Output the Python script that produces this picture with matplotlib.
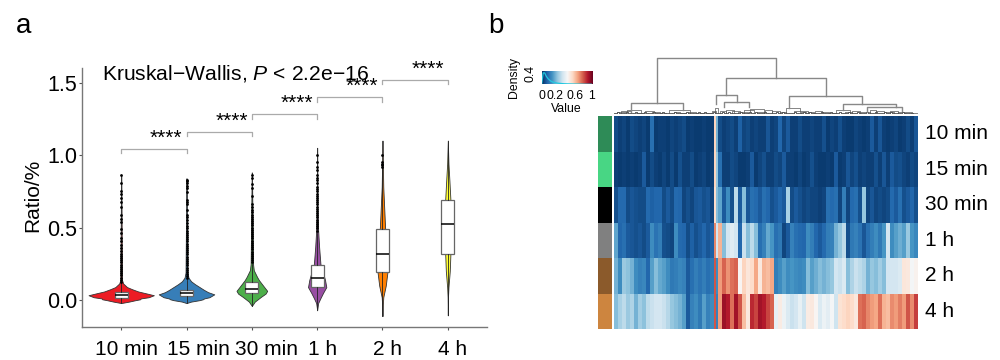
import numpy as np
import matplotlib
matplotlib.use("Agg")
import matplotlib.pyplot as plt

plt.rcParams["font.family"] = ["Liberation Sans", "DejaVu Sans"]
plt.rcParams["mathtext.fontset"] = "custom"
plt.rcParams["mathtext.rm"] = "Liberation Sans"
plt.rcParams["mathtext.it"] = "Liberation Sans:italic"

# violin panel data
times = ["10 min", "15 min", "30 min", "1 h", "2 h", "4 h"]
violin_colors = ["#EC1C24", "#377EB8", "#4DAF4A", "#984EA3", "#FF7F00", "#FFFF33"]
label_shift = [5, 12, 15, 5, 5, 5]

y_10min = [-0.02, -0.01, 0.0, 0.006, 0.012, 0.02, 0.034, 0.045, 0.06, 0.075, 0.09, 0.115, 0.14, 0.86]
w_10min = [0, 0.12, 0.22, 0.29, 0.30, 0.42, 0.50, 0.40, 0.26, 0.17, 0.09, 0.03, 0.012, 0.002]
y_15min = [-0.02, -0.01, 0.0, 0.006, 0.012, 0.02, 0.04, 0.055, 0.07, 0.09, 0.11, 0.13, 0.155, 0.19, 0.84]
w_15min = [0, 0.07, 0.2, 0.25, 0.27, 0.35, 0.425, 0.33, 0.27, 0.2, 0.13, 0.07, 0.03, 0.015, 0.002]
y_30min = [-0.04, -0.01, 0.023, 0.045, 0.064, 0.09, 0.137, 0.16, 0.206, 0.25, 0.88]
w_30min = [0, 0.045, 0.14, 0.21, 0.235, 0.19, 0.11, 0.08, 0.03, 0.018, 0.002]
y_1h = [-0.07, -0.02, 0.014, 0.05, 0.09, 0.14, 0.25, 0.366, 0.48, 0.62, 1.05]
w_1h = [0, 0.015, 0.05, 0.09, 0.14, 0.12, 0.05, 0.03, 0.015, 0.006, 0.001]
y_2h = [-0.11, -0.05, 0.02, 0.1, 0.19, 0.3, 0.5, 0.65, 0.78, 1.0, 1.1]
w_2h = [0, 0.003, 0.012, 0.05, 0.075, 0.08, 0.04, 0.025, 0.012, 0.003, 0]
y_4h = [-0.105, 0.02, 0.09, 0.2, 0.32, 0.5, 0.69, 0.82, 0.94, 1.1]
w_4h = [0, 0.003, 0.01, 0.03, 0.04, 0.05, 0.04, 0.025, 0.01, 0]
violin_y = [y_10min, y_15min, y_30min, y_1h, y_2h, y_4h]
violin_w = [w_10min, w_15min, w_30min, w_1h, w_2h, w_4h]

box_q1 = [0.018, 0.027, 0.046, 0.091, 0.195, 0.32]
box_med = [0.038, 0.05, 0.08, 0.153, 0.32, 0.527]
box_q3 = [0.057, 0.073, 0.126, 0.24, 0.487, 0.69]
whisk_lo = [-0.02, -0.02, -0.04, -0.07, -0.11, -0.105]
whisk_hi = [0.115, 0.14, 0.25, 0.46, 0.92, 1.1]

out_10min = [0.86, 0.81, 0.752, 0.73, 0.706, 0.677, 0.64, 0.585, 0.56, 0.54, 0.49, 0.46, 0.43, 0.41, 0.38,
             0.36, 0.34, 0.32, 0.305, 0.29, 0.275, 0.26, 0.245, 0.23, 0.215, 0.2, 0.185, 0.17, 0.155, 0.14, 0.125]
out_15min = [0.83, 0.82, 0.805, 0.79, 0.77, 0.745, 0.69, 0.675, 0.66, 0.62, 0.59, 0.575, 0.55, 0.53, 0.51,
             0.495, 0.48, 0.465, 0.45, 0.435, 0.42, 0.405, 0.39, 0.375, 0.36, 0.345, 0.33, 0.315, 0.3, 0.285,
             0.27, 0.255, 0.24, 0.225, 0.21, 0.195, 0.18, 0.165, 0.15]
out_30min = [0.86, 0.84, 0.8, 0.77, 0.72, 0.665, 0.64, 0.62, 0.605, 0.59, 0.575, 0.56, 0.545, 0.53, 0.515,
             0.5, 0.485, 0.47, 0.455, 0.44, 0.425, 0.41, 0.395, 0.38, 0.365, 0.35, 0.335, 0.32, 0.305, 0.29, 0.275, 0.26]
out_1h = [1.0, 0.95, 0.92, 0.895, 0.86, 0.84, 0.825, 0.81, 0.78, 0.765, 0.75, 0.735, 0.72, 0.705, 0.69,
          0.675, 0.66, 0.645, 0.63, 0.615, 0.6, 0.585, 0.57, 0.555, 0.54, 0.525, 0.51, 0.495, 0.48]
out_2h = [1.0, 0.95, 0.94, 0.93, 0.92]
out_4h = []
fliers = [out_10min, out_15min, out_30min, out_1h, out_2h, out_4h]

bracket_from = [0, 1, 2, 3, 4]
bracket_to = [1, 2, 3, 4, 5]
bracket_y = [1.042, 1.16, 1.28, 1.397, 1.518]

# heatmap data, columns in dendrogram order
row_10min = [.07,.05,.06,.04,.07,.06,.05,.06,.04,.14,.04,.05,.05,.04,.06,.05,.06,.07,.04,.05,.04,.04,.05,.04,.04,
             .62,.28,
             .07,.05,.06,.07,.05,.11,.06,.07,.05,.06,.05,.05,.09,.05,.06,.12,.06,.10,.05,.05,.07,.05,.05,.06,.05,
             .05,.08,.04,.06,.05,.08,.05,.04,.04,.06,.05,.04,.05,.1,.05,.09,.05,.04,.05,.06,.04,.05,.07,.05,.09]
row_15min = [.05,.04,.05,.04,.05,.04,.05,.1,.04,.07,.05,.04,.06,.04,.07,.04,.08,.05,.05,.07,.04,.05,.06,.04,.05,
             .62,.32,
             .14,.05,.05,.07,.06,.04,.04,.05,.10,.04,.06,.08,.05,.05,.07,.06,.10,.05,.05,.04,.06,.04,.05,.08,.05,
             .04,.04,.05,.04,.1,.04,.05,.09,.06,.08,.05,.06,.05,.05,.08,.05,.09,.05,.1,.07,.08,.06,.05,.07,.06]
row_30min = [.08,.13,.13,.07,.09,.08,.07,.07,.13,.11,.12,.12,.07,.1,.07,.13,.12,.06,.08,.06,.09,.1,.08,.09,.06,
             .6,.3,
             .25,.1,.2,.08,.38,.1,.3,.09,.14,.13,.1,.14,.12,.08,.1,.12,.1,.35,.07,.1,.08,.06,.07,.06,.06,
             .05,.06,.14,.13,.14,.06,.17,.06,.13,.14,.08,.32,.06,.09,.06,.07,.06,.07,.13,.1,.14,.08,.1,.12,.08]
row_1h = [.25,.12,.14,.1,.09,.08,.09,.07,.1,.2,.15,.17,.08,.07,.06,.2,.13,.12,.07,.11,.08,.1,.12,.09,.11,
          .75,.42,
          .68,.3,.42,.45,.42,.12,.4,.3,.38,.3,.14,.18,.26,.22,.14,.16,.06,.1,.18,.14,.13,.12,.2,.17,.12,
          .1,.13,.17,.18,.28,.32,.38,.08,.16,.18,.15,.09,.14,.17,.2,.16,.22,.42,.2,.24,.27,.24,.33,.22,.19]
row_2h = [.28,.2,.33,.31,.28,.2,.18,.19,.12,.24,.3,.26,.24,.2,.16,.17,.19,.18,.1,.14,.17,.15,.17,.14,.16,
          .82,.2,
          .72,.8,.73,.78,.8,.52,.62,.57,.6,.7,.56,.68,.66,.7,.17,.2,.24,.2,.22,.2,.19,.2,.3,.24,.27,
          .3,.28,.3,.32,.42,.4,.44,.3,.36,.4,.38,.36,.28,.32,.3,.34,.3,.42,.42,.42,.44,.57,.56,.5,.53]
row_4h = [.3,.35,.38,.33,.36,.28,.34,.31,.38,.4,.42,.42,.4,.37,.32,.3,.28,.24,.1,.18,.2,.16,.24,.18,.2,
          .82,.18,
          .72,.93,.9,.78,.92,.82,.66,.56,.88,.84,.92,.9,.84,.8,.47,.55,.48,.44,.4,.42,.47,.41,.55,.56,.52,
          .44,.48,.46,.5,.41,.58,.6,.62,.6,.56,.78,.8,.75,.72,.7,.78,.68,.66,.74,.72,.76,.72,.82,.74,.85]
heat_rows = [row_10min, row_15min, row_30min, row_1h, row_2h, row_4h]
col_widths = [4] * 25 + [2, 2] + [4] * 50
row_colors = ["#2E8B57", "#48D684", "#000000", "#808080", "#8B5A2B", "#CD853F"]

# dendrogram: x along the heatmap, heights of each merge
node_left = [43, 17, 112, 102, 110, 175, 229, 253]
node_right = [162, 69, 212, 123, 135, 248, 282, 288]
node_h = [56, 11, 36, 19, 12, 18, 10, 7]
node_left_h = [11, 2.5, 19, 10, 7, 6, 4, 2]
node_right_h = [36, 4, 18, 12, 7, 10, 7, 3]
small_left = [3, 7, 13, 22, 31, 38, 46, 55, 60, 66, 74, 82, 91, 98, 101, 106, 112, 118, 124, 130, 136, 143, 151,
              158, 166, 172, 180, 187, 194, 201, 208, 216, 222, 231, 238, 246, 256, 262, 270, 276, 284, 291, 297]
small_right = [12, 17, 27, 30, 40, 46, 52, 76, 66, 72, 82, 90, 97, 102, 104, 112, 120, 126, 134, 140, 150, 150, 158,
               166, 172, 186, 194, 192, 200, 208, 215, 222, 236, 238, 246, 256, 262, 270, 280, 284, 290, 298, 303]
small_h = [2, 3, 4, 1.5, 3, 2, 1.5, 4, 2, 1.5, 2, 1.5, 1.5, 3, 6, 3, 4, 3, 2, 4, 5, 2, 4,
           3, 2, 6, 3, 2, 2, 3, 2, 1.5, 4, 2, 3, 2, 4, 3, 2, 3, 2, 2, 1.5]
tiny_h = [1, 2, 1.5, 1, 2.5, 1, 1.5, 2, 1, 1, 2, 1.5, 1, 2.5, 1.5, 1, 2, 1, 1.5, 1, 2, 1, 1, 1.5, 2,
          1, 1.5, 1, 2, 1, 2.5, 1.5, 1, 2, 1, 1.5, 2.5, 1, 2, 1.5, 1, 1, 2, 1.5, 1, 2, 1, 2.5, 1, 1.5,
          2, 1, 1.5, 1, 2.5, 1, 2, 1.5, 1, 1, 2, 1, 1.5, 2.5, 1, 2, 1, 1.5, 1, 2, 1, 1, 2.5, 1.5, 1,
          2, 1.5, 1, 2, 1, 1.5, 2.5, 1, 1, 2, 1.5, 1, 2, 1, 1.5, 2, 1, 2.5, 1, 1.5, 1, 2, 1, 1.5, 1]

# small legend of the heatmap
density_x = [0, 0.03, 0.06, 0.09, 0.13, 0.18, 0.24, 0.32, 0.45, 0.6, 0.8, 1]
density_y = [0.02, 0.42, 0.42, 0.3, 0.2, 0.12, 0.07, 0.04, 0.02, 0.012, 0.006, 0.003]
legend_ticks = [0, 0.27, 0.67, 1]
legend_labels = ["0", "0.2", "0.6", "1"]

W, H = 1000, 360


def px_axes(left, top, right, bottom):
    return fig.add_axes([left / W, 1 - bottom / H, (right - left) / W, (bottom - top) / H])


fig = plt.figure(figsize=(10, 3.6), dpi=100)

# ----- violin panel -----
ax = px_axes(82, 68, 487, 327)
pos = np.arange(len(times))
for i in pos:
    wy = np.array(violin_w[i])
    ax.fill_betweenx(violin_y[i], i - wy, i + wy, facecolor=violin_colors[i], edgecolor="#333333", linewidth=0.6, zorder=2)

stats = []
for i in pos:
    stats.append({"med": box_med[i], "q1": box_q1[i], "q3": box_q3[i], "whislo": whisk_lo[i], "whishi": whisk_hi[i], "fliers": fliers[i]})
ax.bxp(stats, positions=pos, widths=0.2, patch_artist=True, showcaps=False, manage_ticks=False, zorder=3,
       boxprops=dict(facecolor="white", edgecolor="#666666", linewidth=0.9),
       medianprops=dict(color="black", linewidth=1.1),
       whiskerprops=dict(color="#222222", linewidth=0.6),
       flierprops=dict(marker="o", markersize=2.0, markerfacecolor="black", markeredgecolor="black", markeredgewidth=0))

for a, b, y in zip(bracket_from, bracket_to, bracket_y):
    ax.plot([a, a, b, b], [y - 0.03, y, y, y - 0.03], color="#aaaaaa", linewidth=0.9, clip_on=False)
    ax.text((a + b) / 2 + 0.19, y + 0.037, "****", ha="center", va="baseline", fontsize=15, color="black")

ax.text(-0.3, 1.565, "Kruskal\u2212Wallis, $\\mathit{P}$ < 2.2e\u221216", fontsize=15.2, va="center", ha="left")
ax.set_xlim(-0.6, 5.6)
ax.set_ylim(-0.185, 1.6)
ax.set_xticks(pos)
ax.set_xticklabels([])
for i in pos:
    ax.annotate(times[i], (i, 0), xycoords=("data", "axes fraction"), xytext=(label_shift[i] * 0.72, -16),
                textcoords="offset points", ha="center", va="center", fontsize=15)
ax.set_yticks([0, 0.5, 1.0, 1.5])
ax.set_yticklabels(["0.0", "0.5", "1.0", "1.5"])
ax.tick_params(axis="both", labelsize=15.5, length=2.5, width=0.8, color="#555555", pad=1)
ax.set_ylabel("Ratio/%", fontsize=15, labelpad=3, y=0.51)
for s in ["top", "right"]:
    ax.spines[s].set_visible(False)
for s in ["left", "bottom"]:
    ax.spines[s].set_color("#777777")
    ax.spines[s].set_linewidth(1)

fig.text(16 / W, 1 - 33 / H, "a", fontsize=20)
fig.text(488 / W, 1 - 33 / H, "b", fontsize=20)

# ----- heatmap -----
ax_h = px_axes(614, 116, 918, 329)
edges = np.concatenate([[0], np.cumsum(col_widths)])
ax_h.pcolormesh(edges, np.arange(len(heat_rows) + 1), np.array(heat_rows), cmap="RdBu_r", vmin=0.02, vmax=1)
ax_h.set_xlim(0, 304)
ax_h.set_ylim(len(heat_rows), 0)
ax_h.axis("off")
for i, lab in enumerate(times):
    ax_h.text(1.023, 1 - (i + 0.5) / len(times), lab, transform=ax_h.transAxes, fontsize=15, va="center", ha="left")

# row colour strip
ax_c = px_axes(598, 116, 612, 329)
for i, c in enumerate(row_colors):
    ax_c.barh(i, 1, height=1, color=c, linewidth=0)
ax_c.set_xlim(0, 1)
ax_c.set_ylim(len(row_colors) - 0.5, -0.5)
ax_c.axis("off")

# dendrogram
ax_d = px_axes(614, 55, 918, 114)
for i, h in enumerate(tiny_h):
    ax_d.plot([i * 3, i * 3, i * 3 + 2, i * 3 + 2], [0.2, h, h, 0.2], color="#222222", linewidth=0.5)
for l, r, h in zip(small_left, small_right, small_h):
    ax_d.plot([l, l, r, r], [0.3, h, h, 0.3], color="#555555", linewidth=0.5)
for l, r, h, lh, rh in zip(node_left, node_right, node_h, node_left_h, node_right_h):
    ax_d.plot([l, l, r, r], [lh, h, h, rh], color="#888888", linewidth=1)
ax_d.set_xlim(0, 304)
ax_d.set_ylim(0, 59)
ax_d.axis("off")

# colour key
ax_k = px_axes(541.7, 70.7, 591.7, 84.3)
grad = np.linspace(0, 1, 256).reshape(1, -1)
ax_k.imshow(grad, cmap="RdBu_r", aspect="auto", extent=[0, 1, 0, 0.5], vmin=0, vmax=1)
ax_k.plot(density_x, density_y, color="#22C8E0", linewidth=0.9)
ax_k.set_xlim(0, 1)
ax_k.set_ylim(0, 0.5)
ax_k.set_xticks(legend_ticks)
ax_k.set_xticklabels(legend_labels)
ax_k.set_yticks([0.4])
ax_k.set_yticklabels(["0.4"], rotation=90, va="center")
ax_k.tick_params(labelsize=8.8, length=0, pad=4)
ax_k.set_xlabel("Value", fontsize=8.8, labelpad=1)
ax_k.set_ylabel("Density", fontsize=8.8, labelpad=3)
for s in ax_k.spines.values():
    s.set_visible(False)

fig.savefig("out.png", dpi=100)
